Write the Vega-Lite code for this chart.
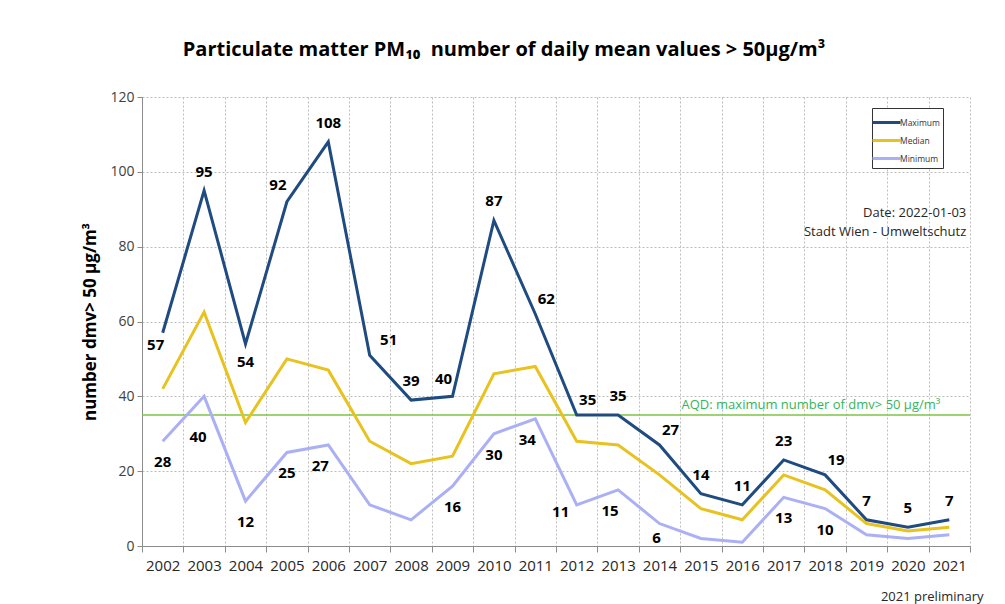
{
  "$schema": "https://vega.github.io/schema/vega-lite/v6.json",
  "width": 828,
  "height": 449,
  "autosize": {"type": "none"},
  "padding": {"left": 142, "top": 97, "right": 35, "bottom": 58},
  "background": "white",
  "config": {
    "font": "Open Sans",
    "view": {"stroke": null}
  },
  "title": {
    "text": "Particulate matter PM₁₀\u00a0 number of daily mean values > 50µg/m³",
    "fontSize": 20,
    "fontWeight": "bold",
    "color": "#000000",
    "anchor": "middle",
    "dx": -52,
    "offset": 30
  },
  "data": {
    "values": [
      {"year": 2002, "series": "Maximum", "value": 57},
      {"year": 2003, "series": "Maximum", "value": 95},
      {"year": 2004, "series": "Maximum", "value": 54},
      {"year": 2005, "series": "Maximum", "value": 92},
      {"year": 2006, "series": "Maximum", "value": 108},
      {"year": 2007, "series": "Maximum", "value": 51},
      {"year": 2008, "series": "Maximum", "value": 39},
      {"year": 2009, "series": "Maximum", "value": 40},
      {"year": 2010, "series": "Maximum", "value": 87},
      {"year": 2011, "series": "Maximum", "value": 62},
      {"year": 2012, "series": "Maximum", "value": 35},
      {"year": 2013, "series": "Maximum", "value": 35},
      {"year": 2014, "series": "Maximum", "value": 27},
      {"year": 2015, "series": "Maximum", "value": 14},
      {"year": 2016, "series": "Maximum", "value": 11},
      {"year": 2017, "series": "Maximum", "value": 23},
      {"year": 2018, "series": "Maximum", "value": 19},
      {"year": 2019, "series": "Maximum", "value": 7},
      {"year": 2020, "series": "Maximum", "value": 5},
      {"year": 2021, "series": "Maximum", "value": 7},
      {"year": 2002, "series": "Median", "value": 42},
      {"year": 2003, "series": "Median", "value": 62.5},
      {"year": 2004, "series": "Median", "value": 33},
      {"year": 2005, "series": "Median", "value": 50},
      {"year": 2006, "series": "Median", "value": 47},
      {"year": 2007, "series": "Median", "value": 28},
      {"year": 2008, "series": "Median", "value": 22},
      {"year": 2009, "series": "Median", "value": 24},
      {"year": 2010, "series": "Median", "value": 46},
      {"year": 2011, "series": "Median", "value": 48},
      {"year": 2012, "series": "Median", "value": 28},
      {"year": 2013, "series": "Median", "value": 27},
      {"year": 2014, "series": "Median", "value": 19},
      {"year": 2015, "series": "Median", "value": 10},
      {"year": 2016, "series": "Median", "value": 7},
      {"year": 2017, "series": "Median", "value": 19},
      {"year": 2018, "series": "Median", "value": 15},
      {"year": 2019, "series": "Median", "value": 6},
      {"year": 2020, "series": "Median", "value": 4},
      {"year": 2021, "series": "Median", "value": 5},
      {"year": 2002, "series": "Minimum", "value": 28},
      {"year": 2003, "series": "Minimum", "value": 40},
      {"year": 2004, "series": "Minimum", "value": 12},
      {"year": 2005, "series": "Minimum", "value": 25},
      {"year": 2006, "series": "Minimum", "value": 27},
      {"year": 2007, "series": "Minimum", "value": 11},
      {"year": 2008, "series": "Minimum", "value": 7},
      {"year": 2009, "series": "Minimum", "value": 16},
      {"year": 2010, "series": "Minimum", "value": 30},
      {"year": 2011, "series": "Minimum", "value": 34},
      {"year": 2012, "series": "Minimum", "value": 11},
      {"year": 2013, "series": "Minimum", "value": 15},
      {"year": 2014, "series": "Minimum", "value": 6},
      {"year": 2015, "series": "Minimum", "value": 2},
      {"year": 2016, "series": "Minimum", "value": 1},
      {"year": 2017, "series": "Minimum", "value": 13},
      {"year": 2018, "series": "Minimum", "value": 10},
      {"year": 2019, "series": "Minimum", "value": 3},
      {"year": 2020, "series": "Minimum", "value": 2},
      {"year": 2021, "series": "Minimum", "value": 3}
    ]
  },
  "layer": [
    {
      "data": {"values": [{}]},
      "mark": {"type": "rule", "color": "#7cc444", "strokeWidth": 1.5},
      "encoding": {"y": {"datum": 35, "type": "quantitative"}}
    },
    {
      "mark": {"type": "line", "strokeWidth": 3, "strokeJoin": "miter"},
      "encoding": {
        "x": {
          "field": "year",
          "type": "ordinal",
          "scale": {"type": "band", "paddingInner": 0, "paddingOuter": 0},
          "axis": {
            "tickBand": "extent",
            "grid": true,
            "gridDash": [2, 2],
            "gridColor": "#bdbdbd",
            "domainColor": "#8c8c8c",
            "tickColor": "#8c8c8c",
            "tickSize": 6,
            "labelAngle": 0,
            "labelFontSize": 15,
            "labelColor": "#262626",
            "labelPadding": 6,
            "title": "2021 preliminary",
            "titleFontWeight": "normal",
            "titleFontSize": 13,
            "titleColor": "#262626",
            "titleX": 841,
            "titleY": 50,
            "titleAlign": "right",
            "titleBaseline": "middle",
            "titleAnchor": null
          }
        },
        "y": {
          "field": "value",
          "type": "quantitative",
          "scale": {"domain": [0, 120], "nice": false},
          "axis": {
            "values": [0, 20, 40, 60, 80, 100, 120],
            "grid": true,
            "gridDash": [2, 2],
            "gridColor": "#bdbdbd",
            "domainColor": "#8c8c8c",
            "tickColor": "#8c8c8c",
            "tickSize": 5,
            "labelFontSize": 14,
            "labelColor": "#404040",
            "labelPadding": 3,
            "title": "number dmv> 50 µg/m³",
            "titleFontSize": 17,
            "titleFontWeight": "bold",
            "titleColor": "#000000",
            "titlePadding": 10
          }
        },
        "color": {
          "field": "series",
          "type": "nominal",
          "scale": {
            "domain": ["Maximum", "Median", "Minimum"],
            "range": ["#1f4b80", "#e8c21e", "#abb0f5"]
          },
          "legend": {
            "title": null,
            "orient": "none",
            "legendX": 730,
            "legendY": 11,
            "fillColor": "#ffffff",
            "strokeColor": "#333333",
            "padding": 3,
            "symbolType": "M-1.4,0H1.4",
            "symbolSize": 400,
            "symbolStrokeWidth": 3,
            "rowPadding": 0,
            "labelFontSize": 8.5,
            "labelColor": "#333333",
            "labelOffset": 2
          }
        }
      }
    },
    {
      "transform": [
        {"filter": "datum.series == 'Maximum' && indexof([2002, 2004, 2007, 2005, 2009, 2011, 2012, 2014, 2018], datum.year) < 0"}
      ],
      "mark": {"type": "text", "fontSize": 15, "fontWeight": "bold", "color": "#000000", "baseline": "middle", "dy": -19},
      "encoding": {
        "x": {"field": "year", "type": "ordinal"},
        "y": {"field": "value", "type": "quantitative"},
        "text": {"field": "value", "type": "quantitative"}
      }
    },
    {
      "transform": [
        {"filter": "datum.series == 'Maximum' && indexof([2005, 2009], datum.year) >= 0"}
      ],
      "mark": {"type": "text", "fontSize": 15, "fontWeight": "bold", "color": "#000000", "baseline": "middle", "dy": -17, "dx": -9},
      "encoding": {
        "x": {"field": "year", "type": "ordinal"},
        "y": {"field": "value", "type": "quantitative"},
        "text": {"field": "value", "type": "quantitative"}
      }
    },
    {
      "transform": [
        {"filter": "datum.series == 'Maximum' && indexof([2011, 2012, 2014, 2018], datum.year) >= 0"}
      ],
      "mark": {"type": "text", "fontSize": 15, "fontWeight": "bold", "color": "#000000", "baseline": "middle", "dy": -15, "dx": 11},
      "encoding": {
        "x": {"field": "year", "type": "ordinal"},
        "y": {"field": "value", "type": "quantitative"},
        "text": {"field": "value", "type": "quantitative"}
      }
    },
    {
      "transform": [
        {"filter": "datum.series == 'Maximum' && datum.year == 2002"}
      ],
      "mark": {"type": "text", "fontSize": 15, "fontWeight": "bold", "color": "#000000", "baseline": "middle", "dy": 12, "dx": -7},
      "encoding": {
        "x": {"field": "year", "type": "ordinal"},
        "y": {"field": "value", "type": "quantitative"},
        "text": {"field": "value", "type": "quantitative"}
      }
    },
    {
      "transform": [
        {"filter": "datum.series == 'Maximum' && datum.year == 2004"}
      ],
      "mark": {"type": "text", "fontSize": 15, "fontWeight": "bold", "color": "#000000", "baseline": "middle", "dy": 18},
      "encoding": {
        "x": {"field": "year", "type": "ordinal"},
        "y": {"field": "value", "type": "quantitative"},
        "text": {"field": "value", "type": "quantitative"}
      }
    },
    {
      "transform": [
        {"filter": "datum.series == 'Maximum' && datum.year == 2007"}
      ],
      "mark": {"type": "text", "fontSize": 15, "fontWeight": "bold", "color": "#000000", "baseline": "middle", "dy": -15, "dx": 19},
      "encoding": {
        "x": {"field": "year", "type": "ordinal"},
        "y": {"field": "value", "type": "quantitative"},
        "text": {"field": "value", "type": "quantitative"}
      }
    },
    {
      "transform": [
        {"filter": "datum.series == 'Minimum' && indexof([2002, 2004, 2005, 2009, 2010, 2017, 2018], datum.year) >= 0"}
      ],
      "mark": {"type": "text", "fontSize": 15, "fontWeight": "bold", "color": "#000000", "baseline": "middle", "dy": 21},
      "encoding": {
        "x": {"field": "year", "type": "ordinal"},
        "y": {"field": "value", "type": "quantitative"},
        "text": {"field": "value", "type": "quantitative"}
      }
    },
    {
      "transform": [
        {"filter": "datum.series == 'Minimum' && indexof([2006, 2011, 2013], datum.year) >= 0"}
      ],
      "mark": {"type": "text", "fontSize": 15, "fontWeight": "bold", "color": "#000000", "baseline": "middle", "dy": 21, "dx": -8},
      "encoding": {
        "x": {"field": "year", "type": "ordinal"},
        "y": {"field": "value", "type": "quantitative"},
        "text": {"field": "value", "type": "quantitative"}
      }
    },
    {
      "transform": [
        {"filter": "datum.series == 'Minimum' && datum.year == 2003"}
      ],
      "mark": {"type": "text", "fontSize": 15, "fontWeight": "bold", "color": "#000000", "baseline": "middle", "dy": 41, "dx": -6},
      "encoding": {
        "x": {"field": "year", "type": "ordinal"},
        "y": {"field": "value", "type": "quantitative"},
        "text": {"field": "value", "type": "quantitative"}
      }
    },
    {
      "transform": [
        {"filter": "datum.series == 'Minimum' && datum.year == 2012"}
      ],
      "mark": {"type": "text", "fontSize": 15, "fontWeight": "bold", "color": "#000000", "baseline": "middle", "dy": 7, "dx": -16},
      "encoding": {
        "x": {"field": "year", "type": "ordinal"},
        "y": {"field": "value", "type": "quantitative"},
        "text": {"field": "value", "type": "quantitative"}
      }
    },
    {
      "transform": [
        {"filter": "datum.series == 'Minimum' && datum.year == 2014"}
      ],
      "mark": {"type": "text", "fontSize": 15, "fontWeight": "bold", "color": "#000000", "baseline": "middle", "dy": 14, "dx": -3},
      "encoding": {
        "x": {"field": "year", "type": "ordinal"},
        "y": {"field": "value", "type": "quantitative"},
        "text": {"field": "value", "type": "quantitative"}
      }
    },
    {
      "data": {"values": [{}]},
      "mark": {"type": "text", "text": "AQD: maximum number of dmv> 50 µg/m³", "fontSize": 13, "color": "#36b45a", "align": "right", "baseline": "middle", "dx": -9, "dy": -10},
      "encoding": {
        "x": {"datum": 2021, "type": "ordinal"},
        "y": {"datum": 35, "type": "quantitative"}
      }
    },
    {
      "data": {"values": [{}]},
      "mark": {"type": "text", "text": "Date: 2022-01-03", "fontSize": 13, "color": "#262626", "align": "right", "baseline": "middle", "dx": 17},
      "encoding": {
        "x": {"datum": 2021, "type": "ordinal"},
        "y": {"datum": 89, "type": "quantitative"}
      }
    },
    {
      "data": {"values": [{}]},
      "mark": {"type": "text", "text": "Stadt Wien - Umweltschutz", "fontSize": 13, "color": "#262626", "align": "right", "baseline": "middle", "dx": 17},
      "encoding": {
        "x": {"datum": 2021, "type": "ordinal"},
        "y": {"datum": 84, "type": "quantitative"}
      }
    }
  ]
}
